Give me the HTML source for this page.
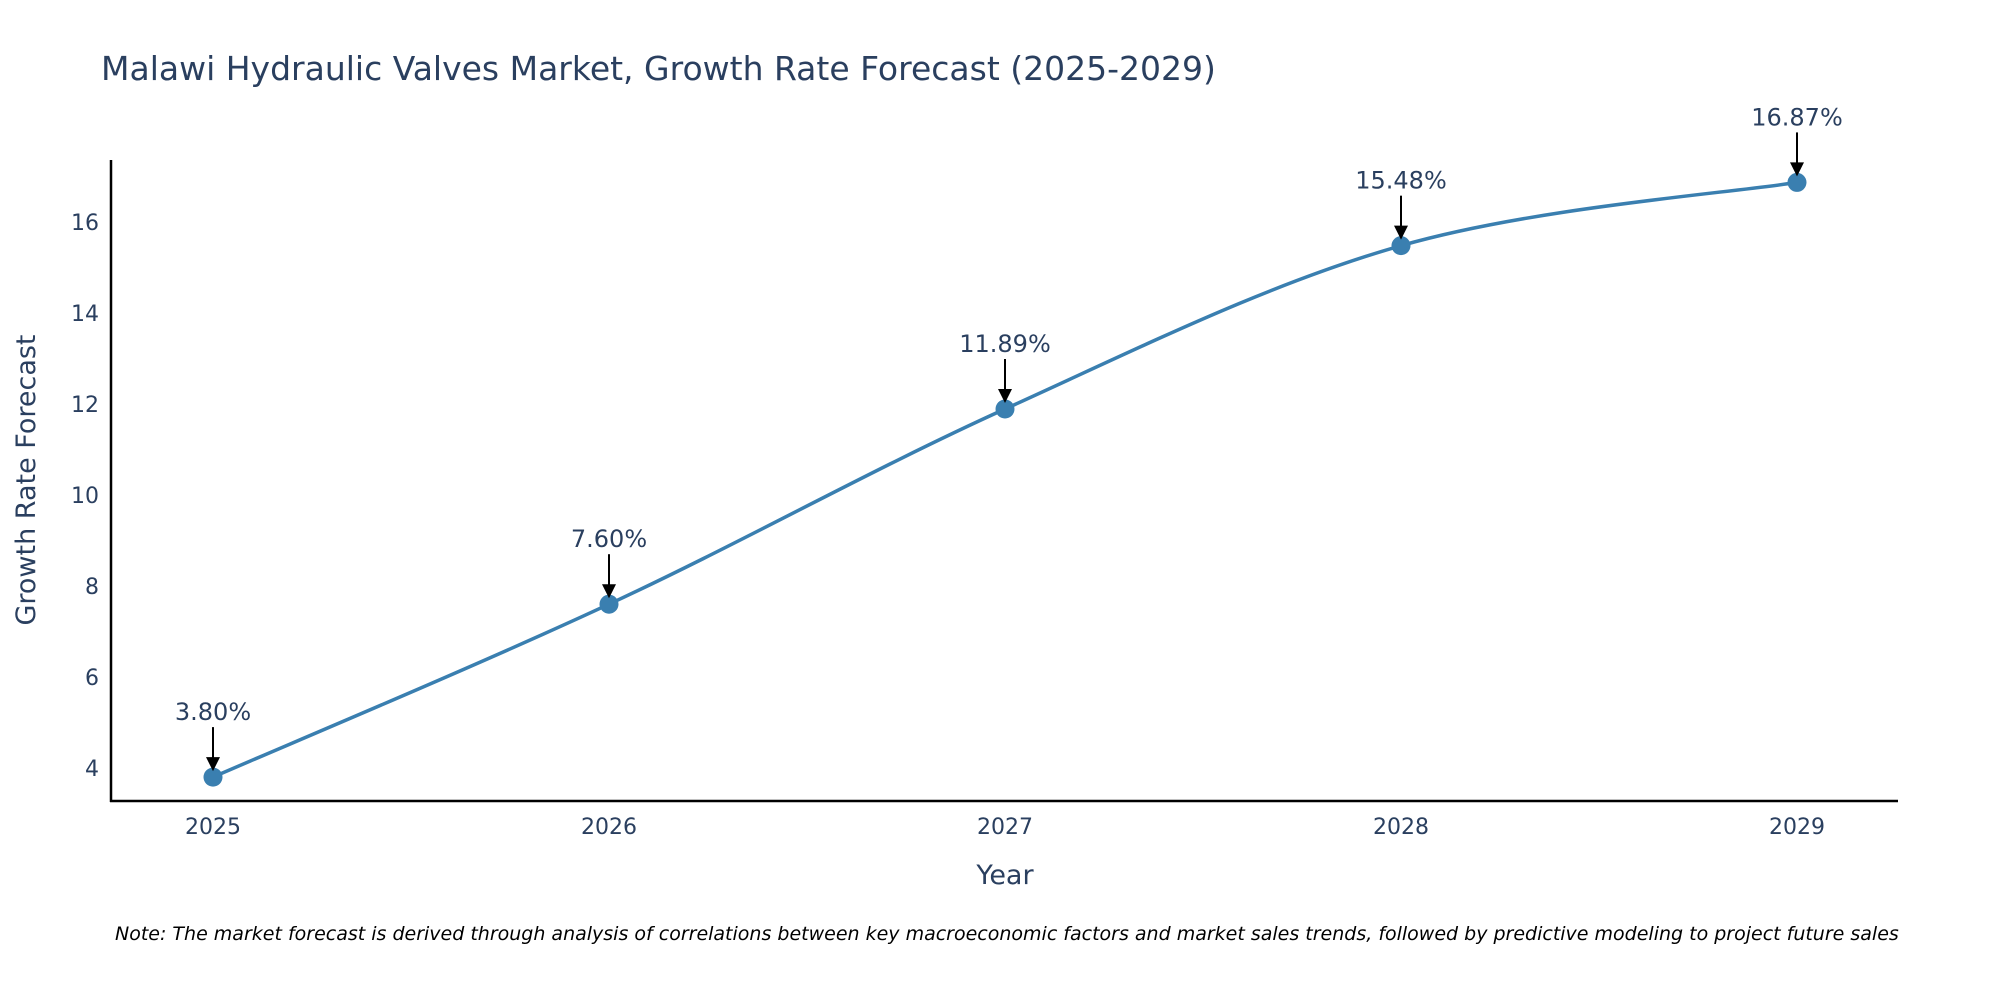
<!DOCTYPE html>
<html><head><meta charset="utf-8"><style>
body{margin:0;background:#fff;}
svg{display:block;font-family:"DejaVu Sans","Liberation Sans",sans-serif;}
</style></head><body>
<svg id="chart" width="2000" height="1000" viewBox="0 0 2000 1000">
<text x="101" y="80" font-size="33" fill="#2a3f5f">Malawi Hydraulic Valves Market, Growth Rate Forecast (2025-2029)</text>
<g id="yticks"></g>
<g id="xticks"></g>
<line x1="111" y1="160" x2="111" y2="802" stroke="#000" stroke-width="2.5"/>
<line x1="110" y1="801" x2="1898" y2="801" stroke="#000" stroke-width="2.5"/>
<path id="line" fill="none" stroke="#3a7fb0" stroke-width="3.5"/>
<g id="marks"></g>
<text x="1005" y="884" font-size="27" fill="#2a3f5f" text-anchor="middle">Year</text>
<text transform="translate(35,480) rotate(-90)" font-size="27" fill="#2a3f5f" text-anchor="middle">Growth Rate Forecast</text>
<text x="115" y="940" font-size="19" font-style="italic" fill="#000">Note: The market forecast is derived through analysis of correlations between key macroeconomic factors and market sales trends, followed by predictive modeling to project future sales</text>
</svg>
<script>
const years=[2025,2026,2027,2028,2029];
const values=[3.80,7.60,11.89,15.48,16.87];
const labels=["3.80%","7.60%","11.89%","15.48%","16.87%"];
const yTicks=[4,6,8,10,12,14,16];
const NS="http://www.w3.org/2000/svg";
function xs(y){return 213+(y-2025)*(1797-213)/4;}
function ys(v){return 768-(v-4)*(768-222)/12;}
function mk(t,a,p){const e=document.createElementNS(NS,t);for(const k in a)e.setAttribute(k,a[k]);p.appendChild(e);return e;}
const yt=document.getElementById('yticks');
yTicks.forEach(v=>{const t=mk('text',{x:99,y:ys(v)+8,'font-size':22,fill:'#2a3f5f','text-anchor':'end'},yt);t.textContent=v;

});
const xt=document.getElementById('xticks');
years.forEach(y=>{const t=mk('text',{x:xs(y),y:834,'font-size':22,fill:'#2a3f5f','text-anchor':'middle'},xt);t.textContent=y;

});
const P=years.map((y,i)=>[xs(y),ys(values[i])]);
let d=`M${P[0][0]},${P[0][1]}`;
const s=0.17;
for(let i=0;i<P.length-1;i++){const p0=P[Math.max(i-1,0)],p1=P[i],p2=P[i+1],p3=P[Math.min(i+2,P.length-1)];
const c1=[p1[0]+(p2[0]-p0[0])*s,p1[1]+(p2[1]-p0[1])*s],c2=[p2[0]-(p3[0]-p1[0])*s,p2[1]-(p3[1]-p1[1])*s];
d+=` C${c1[0]},${c1[1]} ${c2[0]},${c2[1]} ${p2[0]},${p2[1]}`;}
document.getElementById('line').setAttribute('d',d);
const g=document.getElementById('marks');
P.forEach((p,i)=>{const c=mk('circle',{cx:p[0],cy:p[1],r:9.5,fill:'#3a7fb0'},g);


const a=mk('line',{x1:p[0],y1:p[1]-50,x2:p[0],y2:p[1]-18,stroke:'#000','stroke-width':2},g);


const h=mk('polygon',{points:`${p[0]-7},${p[1]-20} ${p[0]+7},${p[1]-20} ${p[0]},${p[1]-6}`,fill:'#000'},g);


const t=mk('text',{x:p[0],y:p[1]-57,'font-size':24,fill:'#2a3f5f','text-anchor':'middle'},g);t.textContent=labels[i];

});
</script>
</body></html>
